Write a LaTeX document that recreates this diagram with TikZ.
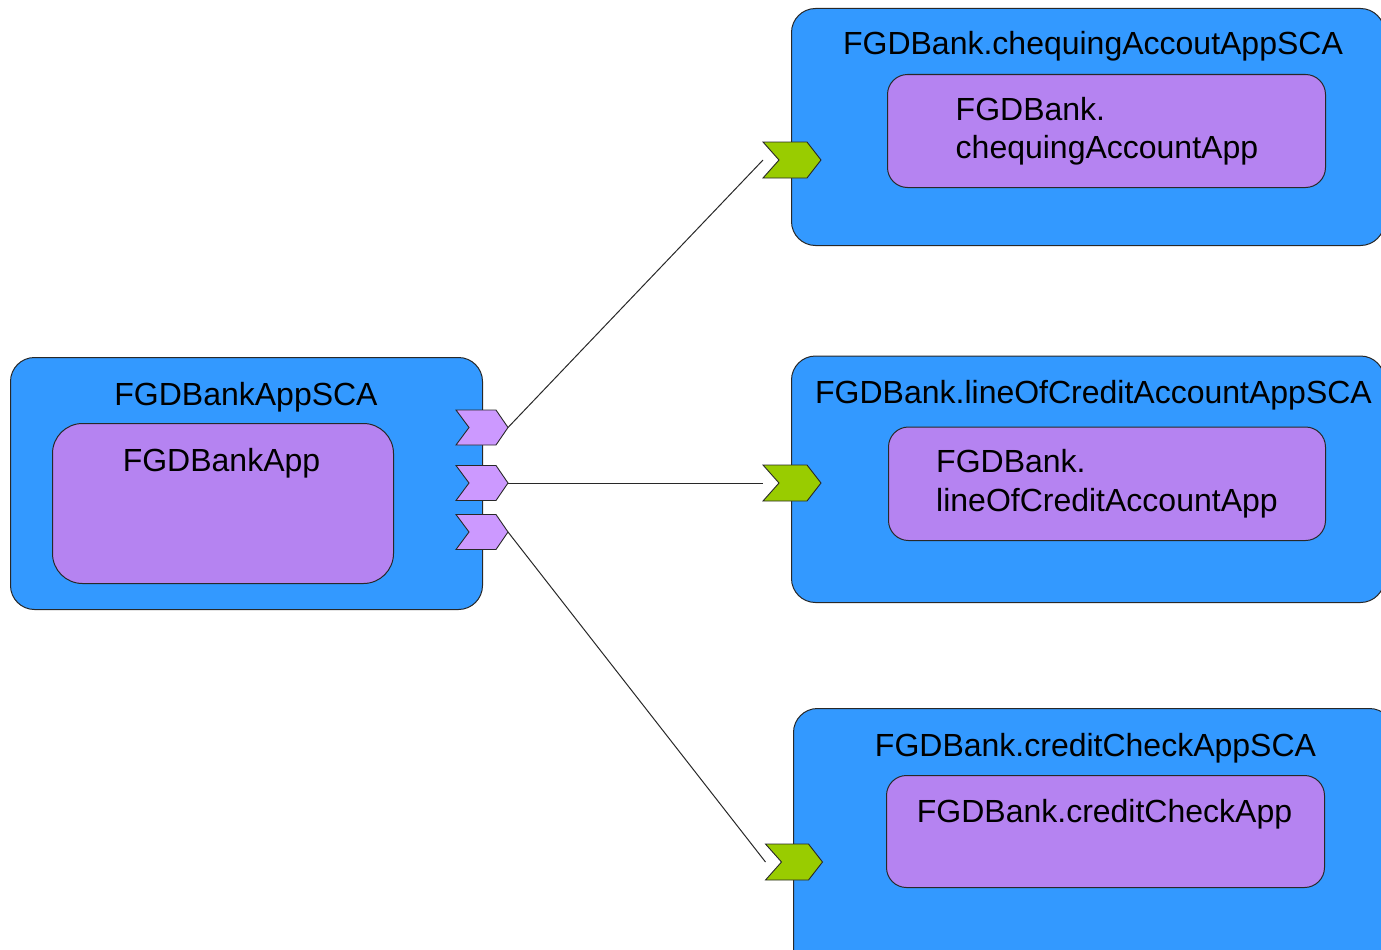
\documentclass[tikz,border=0pt]{standalone}
\usepackage{fontspec}
\setmainfont{Liberation Sans}
\definecolor{scablue}{RGB}{51,153,255}
\definecolor{comppurple}{RGB}{181,131,241}
\definecolor{reflilac}{RGB}{204,153,255}
\definecolor{svcgreen}{RGB}{153,204,0}
\definecolor{edgegray}{RGB}{40,40,40}

% chevron drawn inside a named port node: node, fill, tip depth, notch depth
\newcommand\drawchevron[4]{%
  \draw[draw=edgegray, line width=0.9pt, fill=#2, line join=miter]
    (#1.north west) -- ([xshift=-#3]#1.north east) -- (#1.east)
    -- ([xshift=-#3]#1.south east) -- (#1.south west)
    -- ([xshift=#4]#1.west) -- cycle;}

\begin{document}
\begin{tikzpicture}[x=1pt,y=-1pt,
  composite/.style={draw=edgegray, line width=1pt, fill=scablue,
    rounded corners=24pt, anchor=north west, inner sep=0pt},
  component/.style={draw=edgegray, line width=1pt, fill=comppurple,
    rounded corners=22pt, anchor=north west, inner sep=0pt},
  txt/.style={font=\fontsize{32}{38}\selectfont, inner sep=0pt, anchor=base},
  txtl/.style={txt, anchor=base west},
  portbox/.style={inner sep=0pt, outer sep=0pt, minimum width=#1},
  conn/.style={draw=edgegray, line width=1pt}]

\useasboundingbox (0,0) rectangle (1381,950);
\clip (0,0) rectangle (1381,950);

% composites
\node[composite, minimum width=472pt, minimum height=252pt] (sca) at (10,357) {};
\node[component, minimum width=341pt, minimum height=160pt, rounded corners=30pt] (app) at (52,423) {};
\node[txt] (scat) at (246,405) {FGDBankAppSCA};
\node[txt] (appt) at (221.5,471.5) {FGDBankApp};

\node[composite, minimum width=593pt, minimum height=237pt] (chq) at (791,8) {};
\node[component, minimum width=438pt, minimum height=113pt, rounded corners=20pt] (chqapp) at (887,74) {};
\node[txt] (chqt) at (1093,55) {FGDBank.chequingAccoutAppSCA};
\node[txtl] (chqa) at (955.5,120) {FGDBank.};
\node[txtl] (chqb) at (955.5,158) {chequingAccountApp};

\node[composite, minimum width=593pt, minimum height=246.5pt] (loc) at (791,355.5) {};
\node[component, minimum width=437pt, minimum height=113.5pt, rounded corners=20pt] (locapp) at (888,426.5) {};
\node[txt] (loct) at (1093.5,403.5) {FGDBank.lineOfCreditAccountAppSCA};
\node[txtl] (loca) at (936,472) {FGDBank.};
\node[txtl] (locb) at (936,511.5) {lineOfCreditAccountApp};

\node[composite, minimum width=600pt, minimum height=270pt] (cc) at (793,708) {};
\node[component, minimum width=438pt, minimum height=112pt, rounded corners=20pt] (ccapp) at (886,775) {};
\node[txt] (cct) at (1095.5,756) {FGDBank.creditCheckAppSCA};
\node[txt] (cca) at (1104.5,822) {FGDBank.creditCheckApp};

% references on the left composite
\node[portbox=52pt, minimum height=35pt] (p1) at (482,427.5) {};
\node[portbox=52pt, minimum height=35pt] (p2) at (482,483) {};
\node[portbox=52pt, minimum height=35pt] (p3) at (482,532) {};
\drawchevron{p1}{reflilac}{12pt}{13pt}
\drawchevron{p2}{reflilac}{12pt}{13pt}
\drawchevron{p3}{reflilac}{12pt}{13pt}

% services on the right composites
\node[portbox=58pt, minimum height=36pt] (g1) at (792,160) {};
\node[portbox=58pt, minimum height=36pt] (g2) at (792,483) {};
\node[portbox=57pt, minimum height=36pt] (g3) at (794,862) {};
\drawchevron{g1}{svcgreen}{14pt}{16pt}
\drawchevron{g2}{svcgreen}{14pt}{16pt}
\drawchevron{g3}{svcgreen}{14pt}{16pt}

% wires
\draw[conn] (p1.east) -- (g1.west);
\draw[conn] (p2.east) -- (g2.west);
\draw[conn] (p3.east) -- (g3.west);
\end{tikzpicture}
\end{document}
